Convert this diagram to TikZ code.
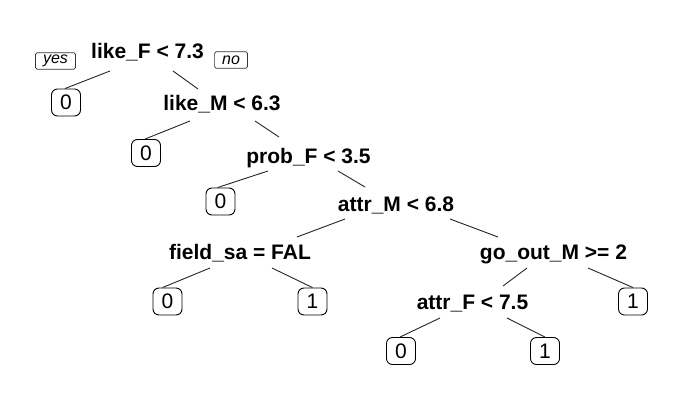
\documentclass[tikz,border=0pt]{standalone}
\usepackage{fontspec}
\setmainfont{Liberation Sans}
\usetikzlibrary{calc}
\begin{document}
\begin{tikzpicture}[x=1pt,y=-1pt,
  split/.style={anchor=base,inner sep=0pt,font=\fontsize{21}{21}\selectfont\bfseries},
  leaf/.style={draw=black,line width=0.9pt,rounded corners=6pt,minimum width=29pt,minimum height=27pt,inner sep=0pt,font=\fontsize{21}{21}\selectfont},
  tag/.style={draw=black!80,line width=0.7pt,rounded corners=1.5pt,minimum height=16.5pt,inner xsep=7.5pt,inner ysep=0pt,font=\fontsize{16}{16}\selectfont\itshape},
  edge/.style={draw=black!85,line width=0.9pt}]
\useasboundingbox[fill=white] (0,0) rectangle (700,406);
% split nodes
\node[split] (root)  at (147.5,59) {like\_F < 7.3};
\node[split] (likeM) at (222,111) {like\_M < 6.3};
\node[split] (probF) at (308.5,163) {prob\_F < 3.5};
\node[split] (attrM) at (396,211) {attr\_M < 6.8};
\node[split] (field) at (240,259) {field\_sa = FAL};
\node[split] (goout) at (553.5,259) {go\_out\_M >= 2};
\node[split] (attrF) at (472.5,309) {attr\_F < 7.5};
% yes / no
\node[tag] (yes) at (55.5,61) {yes};
\node[tag] (no) at (231,60) {no};
% leaves
\node[leaf] (A) at (66,102.5) {0};
\node[leaf] (B) at (146,153) {0};
\node[leaf] (C) at (220.5,201.5) {0};
\node[leaf] (D) at (167.5,301.5) {0};
\node[leaf] (E) at (312.5,301.5) {1};
\node[leaf] (F) at (633,301.5) {1};
\node[leaf] (G) at (401,351) {0};
\node[leaf] (H) at (545,351) {1};
% edges
\draw[edge] ($(root.base)+(-37.5,12)$) -- ($(A.north)+(-1,0)$);
\draw[edge] ($(root.base)+(25.5,12)$) -- ($(likeM.base)+(-24,-22)$);
\draw[edge] ($(likeM.base)+(-32,10)$) -- ($(B.north)+(-1,0)$);
\draw[edge] ($(likeM.base)+(33,10)$) -- ($(probF.base)+(-29.5,-26)$);
\draw[edge] ($(probF.base)+(-40.5,8)$) -- ($(C.north)+(-3,0)$);
\draw[edge] ($(probF.base)+(29.5,8)$) -- ($(attrM.base)+(-31,-24)$);
\draw[edge] ($(attrM.base)+(-51,8)$) -- ($(field.base)+(57,-22)$);
\draw[edge] ($(attrM.base)+(54,8)$) -- ($(goout.base)+(-55.5,-22)$);
\draw[edge] ($(field.base)+(-30,9)$) -- ($(D.north)+(-5,0)$);
\draw[edge] ($(field.base)+(32,9)$) -- (E.north);
\draw[edge] ($(goout.base)+(-26.5,9)$) -- ($(attrF.base)+(30.5,-23)$);
\draw[edge] ($(goout.base)+(34.5,9)$) -- (F.north);
\draw[edge] ($(attrF.base)+(-32.5,9)$) -- ($(G.north)+(-1,0)$);
\draw[edge] ($(attrF.base)+(34.5,9)$) -- (H.north);
\end{tikzpicture}
\end{document}
